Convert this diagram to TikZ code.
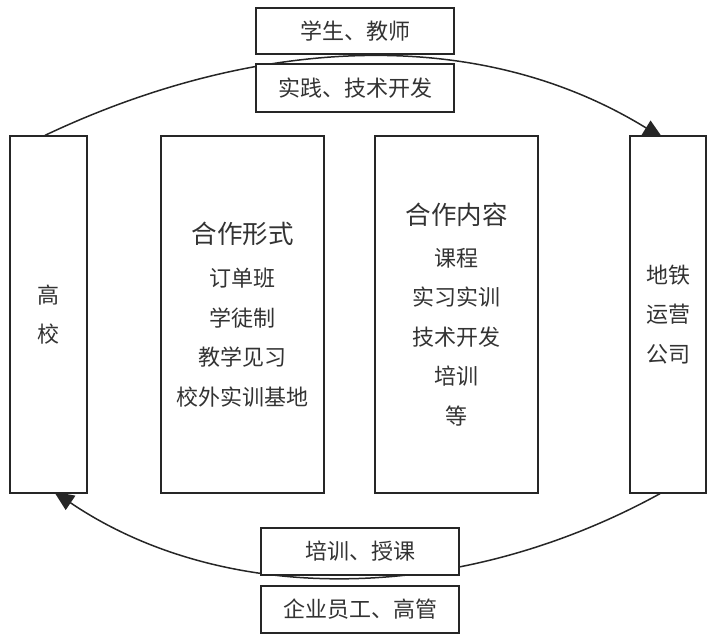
\documentclass[tikz,border=0pt]{standalone}
\usepackage{fontspec}
\setmainfont{Noto Sans CJK SC}
\usetikzlibrary{arrows.meta,backgrounds}

\begin{document}
\begin{tikzpicture}[x=1pt, y=-1pt,
  box/.style={draw=black!85, line width=1.3pt, fill=white, text=black!80, align=center, inner sep=0pt, font=\fontsize{22}{39.5}\selectfont},
  flow/.style={draw=black!85, line width=1.5pt, -{Triangle[length=20pt, width=17pt]}}]
\useasboundingbox (0,0) rectangle (711,636);
% four columns
\node[box, minimum width=77, minimum height=357] (gx) at (48.5,314.5) {高\\校};
\node[box, minimum width=163, minimum height=357] (xs) at (242.5,314.5) {{\fontsize{25.5}{39.5}\selectfont 合作形式}\\[4pt]订单班\\学徒制\\教学见习\\校外实训基地};
\node[box, minimum width=163, minimum height=357] (nr) at (456.5,314.5) {{\fontsize{25.5}{39.5}\selectfont 合作内容}\\[2pt]课程\\实习实训\\技术开发\\培训\\等};
\node[box, minimum width=76, minimum height=357] (dt) at (668,314.5) {地铁\\运营\\公司};
% labels on the arcs
\node[box, minimum width=198, minimum height=46] (xsjs) at (355,31) {学生、教师};
\node[box, minimum width=198, minimum height=48] (sj) at (355,88) {实践、技术开发};
\node[box, minimum width=198, minimum height=47] (px) at (360,551.5) {培训、授课};
\node[box, minimum width=198, minimum height=47] (qy) at (360,609.5) {企业员工、高管};
\begin{scope}[on background layer]
\draw[flow] ([xshift=-3.5]gx.north) .. controls +(203,-96) and +(-190,-117) .. ([xshift=-5,yshift=-3]dt.north);
\draw[flow] ([xshift=-8]dt.south) .. controls +(-202,111) and +(170,115) .. ([xshift=5.5,yshift=2]gx.south);
\end{scope}
\end{tikzpicture}
\end{document}
